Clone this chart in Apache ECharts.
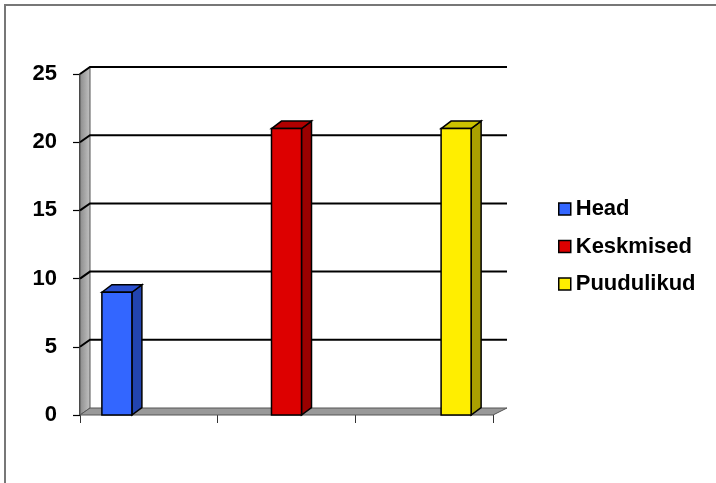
<!DOCTYPE html>
<html><head><meta charset="utf-8">
<script src="https://cdn.jsdelivr.net/npm/echarts@6/dist/echarts.min.js"></script>
<style>html,body{margin:0;padding:0;background:#fff}#c{width:716px;height:483px}</style>
</head><body><div id="c"></div>
<script>
var categories = ['A', 'B', 'C'];
var seriesNames = ['Head', 'Keskmised', 'Puudulikud'];
var headValues = [9, null, null];
var keskmisedValues = [null, 21, null];
var puudulikudValues = [null, null, 21];
var yTicks = [0, 5, 10, 15, 20, 25];

var frontColors = ['#3366ff', '#dd0000', '#ffee00'];
var sideColors = ['#2244b0', '#990000', '#aaa000'];
var topColors = ['#2a50d0', '#b00000', '#ccc200'];
var FONT = '"Liberation Sans", Arial, sans-serif';
var WDX = 10, WDY = 7;

var chart = echarts.init(document.getElementById('c'), null, {renderer: 'canvas'});

function barRenderer(si) {
  return function (params, api) {
    var v = api.value(1);
    if (v == null || isNaN(v)) return null;
    var cat = api.value(0);
    var top = api.coord([cat, v]);
    var base = api.coord([cat, 0]);
    var bw = api.size([1, 0])[0];
    var slot = bw * 0.232;
    var w = bw * 0.218;
    var cx = top[0] + (si - 1) * slot;
    var x0 = cx - w / 2, x1 = cx + w / 2, yt = top[1], yb = base[1];
    var dx = 10, dy = 7.5;
    var ls = {stroke: '#000', lineWidth: 1.5};
    return {type: 'group', children: [
      {type: 'polygon', shape: {points: [[x1, yt], [x1 + dx, yt - dy], [x1 + dx, yb - dy], [x1, yb]]},
        style: Object.assign({fill: sideColors[si]}, ls)},
      {type: 'polygon', shape: {points: [[x0, yt], [x0 + dx, yt - dy], [x1 + dx, yt - dy], [x1, yt]]},
        style: Object.assign({fill: topColors[si]}, ls)},
      {type: 'rect', shape: {x: x0, y: yt, width: w, height: yb - yt},
        style: Object.assign({fill: frontColors[si]}, ls)}
    ]};
  };
}

function wallRenderer(params, api) {
  var cs = params.coordSys;
  var l = cs.x, r = cs.x + cs.width;
  var y0 = api.coord([0, 0])[1], yTop = api.coord([0, yTicks[yTicks.length - 1]])[1];
  var children = [];
  if (params.dataIndex === 0) {
    children.push({type: 'polygon', shape: {points: [[l, y0], [l, yTop], [l + WDX, yTop - WDY], [l + WDX, y0 - WDY]]},
      style: {fill: new echarts.graphic.LinearGradient(0, 0, 1, 0, [{offset: 0, color: '#8a8a8a'}, {offset: 1, color: '#c4c4c4'}]), stroke: '#555', lineWidth: 1}});
    children.push({type: 'polygon', shape: {points: [[l, y0], [l + WDX, y0 - WDY], [r + 14, y0 - WDY], [r, y0]]},
      style: {fill: '#999', stroke: '#555', lineWidth: 1}});
  }
  var v = api.value(0);
  var y = api.coord([0, v])[1];
  if (v !== 0) {
    children.push({type: 'polyline', shape: {points: [[l, y], [l + WDX, y - WDY], [r + 14, y - WDY]]},
      style: {stroke: '#000', lineWidth: 2, fill: null}});
  }
  return {type: 'group', children: children};
}

var barData = [headValues, keskmisedValues, puudulikudValues];
var series = [{
  type: 'custom', name: 'wall', silent: true, z: 1,
  data: yTicks.map(function (t) { return [t]; }),
  encode: {y: 0},
  renderItem: wallRenderer
}];
seriesNames.forEach(function (n, si) {
  series.push({
    type: 'custom', name: n, z: 3,
    itemStyle: {color: frontColors[si]},
    data: barData[si].map(function (v, i) { return [i, v]; }),
    encode: {x: 0, y: 1},
    renderItem: barRenderer(si)
  });
});

chart.setOption({
  animation: false,
  backgroundColor: '#fff',
  graphic: [{type: 'polyline', shape: {points: [[5, 483], [5, 5], [716, 5]]}, style: {stroke: '#777', lineWidth: 2, fill: null}}],
  grid: {left: 80, right: 223, top: 74, bottom: 68},
  legend: {
    data: seriesNames, orient: 'vertical', left: 553, top: 193,
    icon: 'rect', itemWidth: 12, itemHeight: 12, itemGap: 15.5,
    itemStyle: {borderColor: '#000', borderWidth: 1.5},
    textStyle: {fontFamily: FONT, fontSize: 22, fontWeight: 'bold', color: '#000', lineHeight: 22}
  },
  xAxis: {
    type: 'category', data: categories,
    axisLine: {show: false},
    axisTick: {show: true, length: 8, inside: false, lineStyle: {color: '#333', width: 1}},
    axisLabel: {show: false},
    splitLine: {show: false}
  },
  yAxis: {
    type: 'value', min: 0, max: 25, interval: 5,
    axisLine: {show: true, lineStyle: {color: '#000', width: 1.5}},
    axisTick: {show: true, length: 7, lineStyle: {color: '#000', width: 1.2}},
    axisLabel: {margin: 23, fontFamily: FONT, fontSize: 22, fontWeight: 'bold', color: '#000'},
    splitLine: {show: false}
  },
  series: series
});
</script>
</body></html>
